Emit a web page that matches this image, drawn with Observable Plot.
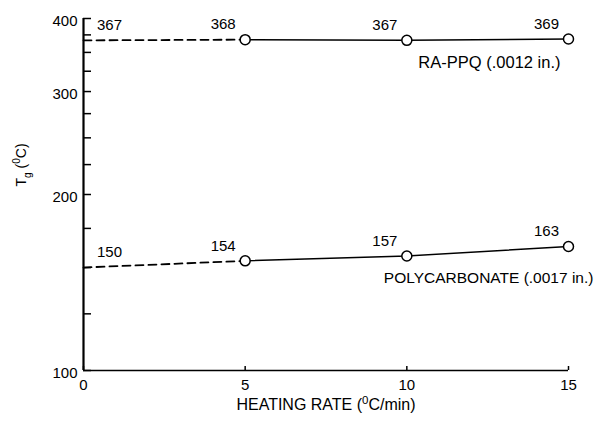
<!DOCTYPE html>
<html><head><meta charset="utf-8">
<script src="https://cdn.jsdelivr.net/npm/d3@7"></script>
<script src="https://cdn.jsdelivr.net/npm/@observablehq/plot@0.6"></script>
<style>body{margin:0;background:#fff}</style>
</head><body><div id="chart"></div>
<script>
const heatingRate = [0, 5, 10, 15];
const raPPQ = [367, 368, 367, 369];
const polycarbonate = [150, 154, 157, 163];
const seriesNames = ["RA-PPQ (.0012 in.)", "POLYCARBONATE (.0017 in.)"];
const yTicks = [100,125,150,175,200,225,250,275,300,325,350,375,400];
const yTickLabels = [100, 200, 300, 400];
const xTicks = [0, 5, 10, 15];
const xLabel = "HEATING RATE (⁰C/min)";
const yLabel = "Tg (⁰C)";

const rows = [];
[raPPQ, polycarbonate].forEach((vals, s) =>
  vals.forEach((v, i) => rows.push({series: seriesNames[s], x: heatingRate[i], y: v})));
const measured = rows.filter(d => d.x > 0);
const extrapolated = rows.filter(d => d.x <= 5);
const FONT = "'Liberation Sans', Arial, sans-serif";

const chart = Plot.plot({
  width: 599, height: 426,
  marginLeft: 83, marginRight: 31, marginTop: 18, marginBottom: 56,
  style: {fontFamily: FONT, fontSize: "15px", color: "#000", background: "#fff"},
  x: {domain: [0, 15]},
  y: {type: "log", domain: [100, 400]},
  marks: [
    Plot.axisY(yTicks, {tickSize: -8, tickFormat: () => "", label: null, strokeWidth: 1.5}),
    Plot.axisY(yTickLabels, {tickSize: 0, tickPadding: 6, tickFormat: d => String(d), dy: 3, label: null, fontSize: 15}),
    Plot.axisX(xTicks, {tickSize: -4, tickFormat: () => "", label: null, strokeWidth: 1.5}),
    Plot.axisX(xTicks, {tickSize: 0, tickPadding: 9, tickFormat: d => String(d), label: null, fontSize: 15}),
    Plot.ruleX([0], {strokeWidth: 2.2}),
    Plot.ruleY([100], {strokeWidth: 1.6}),
    Plot.line(extrapolated, {x: "x", y: "y", z: "series", stroke: "black", strokeWidth: 1.8, strokeDasharray: "8,5"}),
    Plot.line(measured, {x: "x", y: "y", z: "series", stroke: "black", strokeWidth: 1.5}),
    Plot.dot(measured, {x: "x", y: "y", r: 5, fill: "white", stroke: "black", strokeWidth: 1.5}),
    Plot.text(rows.filter(d => d.x === 0), {x: "x", y: "y", text: d => String(d.y), dx: 26, dy: -15, fontSize: 15}),
    Plot.text(measured, {x: "x", y: "y", text: d => String(d.y), dx: -22, dy: -15, fontSize: 15}),
    Plot.text(rows.filter(d => d.x === 15 && d.series === seriesNames[0]), {x: "x", y: "y", text: "series", textAnchor: "end", dx: -8, dy: 24, fontSize: 16.5}),
    Plot.text(rows.filter(d => d.x === 10 && d.series === seriesNames[1]), {x: "x", y: "y", text: "series", textAnchor: "start", dx: -23, dy: 22, fontSize: 15.5}),
    Plot.text([xLabel], {frameAnchor: "bottom", dy: 39, fontSize: 16}),
    Plot.text([yLabel], {frameAnchor: "left", rotate: -90, dx: -58, dy: -8, lineAnchor: "bottom", fontSize: 14})
  ]
});
document.getElementById("chart").appendChild(chart);

// rich text: superscript 0 and subscript g
d3.select(chart).selectAll("text").each(function() {
  const t = this.textContent;
  if (t !== xLabel && t !== yLabel) return;
  const el = d3.select(this);
  el.text(null);
  const parts = [];
  let buf = "";
  for (let i = 0; i < t.length; i++) {
    const c = t[i];
    if (c === "⁰") { if (buf) parts.push({s: buf}); buf = ""; parts.push({s: "0", sup: true}); }
    else if (t === yLabel && i === 1) { if (buf) parts.push({s: buf}); buf = ""; parts.push({s: "g", sub: true}); }
    else buf += c;
  }
  if (buf) parts.push({s: buf});
  let shift = 0;
  parts.forEach(p => {
    const target = p.sup ? -6 : p.sub ? 5 : 0;
    const ts = el.append("tspan").text(p.s).attr("dy", target - shift);
    if (p.sup || p.sub) ts.attr("font-size", "0.72em");
    shift = target;
  });
});
</script></body></html>
